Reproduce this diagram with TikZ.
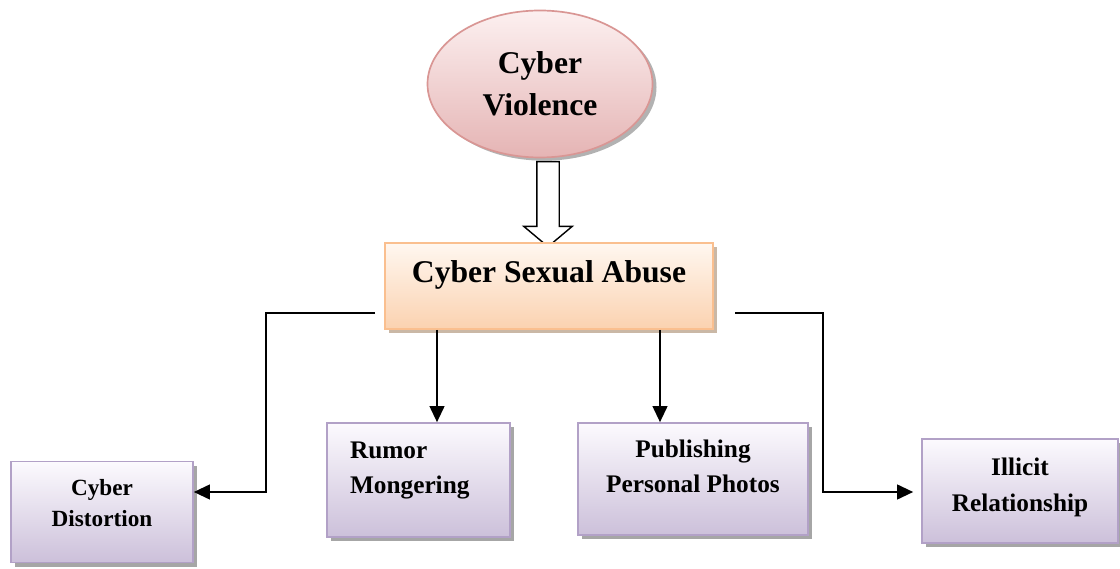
\documentclass[tikz,border=0pt]{standalone}
\usepackage{fontspec}
\setmainfont{Liberation Serif}
\usepackage{xcolor}
\usepackage{tikz}
\usetikzlibrary{shapes.geometric, shapes.arrows, arrows.meta, positioning, shadows}
\definecolor{vioTop}{RGB}{252,240,240}
\definecolor{vioBot}{RGB}{229,180,180}
\definecolor{vioLine}{RGB}{217,150,148}
\definecolor{absTop}{RGB}{255,247,240}
\definecolor{absBot}{RGB}{251,210,176}
\definecolor{absLine}{RGB}{250,191,143}
\definecolor{leafTop}{RGB}{252,250,254}
\definecolor{leafBot}{RGB}{204,192,218}
\definecolor{leafLine}{RGB}{178,161,199}
\tikzset{
    topic/.style={ellipse, draw=vioLine, line width=1.2pt, top color=vioTop, bottom color=vioBot, align=center,
        drop shadow={shadow xshift=0.1cm, shadow yshift=-0.08cm, fill=black, opacity=0.3},
        font=\fontsize{22.5}{30}\selectfont\bfseries},
    mainbox/.style={rectangle, draw=absLine, line width=1.2pt, top color=absTop, bottom color=absBot, align=center,
        drop shadow={shadow xshift=0.1cm, shadow yshift=-0.1cm, fill=black!60!orange, opacity=0.35},
        font=\fontsize{22.5}{27}\selectfont\bfseries},
    leaf/.style={rectangle, draw=leafLine, line width=1.2pt, top color=leafTop, bottom color=leafBot, align=center,
        drop shadow={shadow xshift=0.1cm, shadow yshift=-0.1cm, fill=black, opacity=0.35},
        font=\fontsize{18}{25}\selectfont\bfseries},
    hollow/.style={single arrow, draw=black, line width=1pt, fill=white, shape border rotate=270, inner sep=0.2625cm,
        single arrow head extend=0.325cm, single arrow tip angle=100},
    link/.style={line width=1.2pt},
    flow/.style={-{Triangle[length=0.4cm, width=0.37cm]}, line width=1.2pt}
}
\begin{document}
\begin{tikzpicture}[
    node distance=3cm
]
    \useasboundingbox (0,0) rectangle (28,14.2);
    % Top topic
    \node[topic, minimum width=5.625cm, minimum height=3.675cm] (violence) at (13.5,12.1) {Cyber\\Violence};

    % Hollow arrow
    \node[hollow, minimum height=2.125cm, minimum width=1.175cm] (down) at (13.7,9.2125) {};

    % Main category
    \node[mainbox, minimum width=8.2cm, minimum height=2.15cm, text depth=20.5pt] (abuse) at (13.725,7.05) {Cyber Sexual Abuse};

    % Forms of abuse
    \node[leaf, minimum width=4.55cm, minimum height=2.525cm, text depth=12.8pt,
        font=\fontsize{16.5}{22}\selectfont\bfseries] (distort) at (2.55,1.4) {Cyber\\Distortion};
    \node[leaf, align=left, text width=3.425cm, inner xsep=0.575cm, minimum height=2.85cm, text depth=42.5pt] (rumor) at (10.4625,2.2) {Rumor\\Mongering};
    \node[leaf, minimum width=5.75cm, minimum height=2.8cm, text depth=18.5pt] (photos) at (17.325,2.225) {Publishing\\Personal Photos};
    \node[leaf, minimum width=4.9cm, minimum height=2.6cm, text depth=8.5pt,
        font=\fontsize{18}{25.6}\selectfont\bfseries] (illicit) at (25.5,1.925) {Illicit\\Relationship};

    % Taps on the main box
    \coordinate (ltap) at (9.375,6.375);
    \coordinate (lbend) at (6.65,1.9);
    \coordinate (rtap) at (18.375,6.375);
    \coordinate (rbend) at (20.575,1.9);
    \coordinate (rumtap) at (10.925,5.95);
    \coordinate (phototap) at (16.5,5.95);

    % Flows
    \draw[flow] (ltap) -| (lbend) -- (distort.east |- lbend);
    \draw[flow] (rtap) -| (rbend) -- ([xshift=-0.2cm]illicit.west |- rbend);
    \draw[flow] (rumtap) -- (rumtap |- rumor.north);
    \draw[flow] (phototap) -- (phototap |- photos.north);
\end{tikzpicture}
\end{document}
